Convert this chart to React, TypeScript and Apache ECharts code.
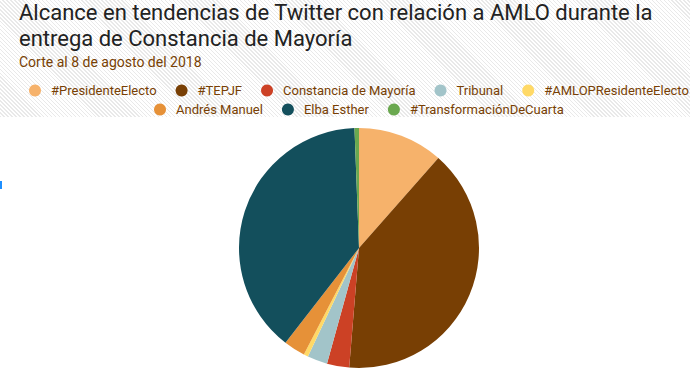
import React, { useEffect, useRef } from "react";
import * as echarts from "echarts";

const titleLines = [
  "Alcance en tendencias de Twitter con relación a AMLO durante la",
  "entrega de Constancia de Mayoría",
];
const subtitle = "Corte al 8 de agosto del 2018";

const categories = [
  "#PresidenteElecto",
  "#TEPJF",
  "Constancia de Mayoría",
  "Tribunal",
  "#AMLOPResidenteElecto",
  "Andrés Manuel",
  "Elba Esther",
  "#TransformaciónDeCuarta",
];
const values = [11.5, 39.8, 3.0, 2.7, 0.6, 2.9, 38.9, 0.6];
const colors = [
  "#F6B26B",
  "#783F04",
  "#CC4125",
  "#A2C4C9",
  "#FFD966",
  "#E69138",
  "#134F5C",
  "#6AA84F",
];

const legendRow1 = categories.slice(0, 5);
const legendRow2 = categories.slice(5);

const FONT = "Roboto, 'Noto Sans', sans-serif";
const BROWN = "#783F04";

export default function App() {
  const ref = useRef<HTMLDivElement>(null);

  useEffect(() => {
    if (!ref.current) return;
    const chart = echarts.init(ref.current, undefined, { renderer: "svg" });
    const legendCommon = {
      orient: "horizontal" as const,
      icon: "circle",
      itemWidth: 22,
      itemHeight: 12,
      itemGap: 19,
      padding: 0,
      selectedMode: false,
      textStyle: { color: BROWN, fontSize: 13, fontFamily: FONT },
    };
    const titleStyle = {
      fontFamily: FONT,
      fontSize: 22,
      fontWeight: "normal" as const,
      color: "#222222",
      lineHeight: 22,
    };
    chart.setOption({
      animation: false,
      color: colors,
      title: [
        { text: titleLines[0], left: 19, top: 1, padding: 0, textStyle: titleStyle },
        { text: titleLines[1], left: 19, top: 27, padding: 0, textStyle: titleStyle },
        {
          text: subtitle,
          left: 19,
          top: 54,
          padding: 0,
          textStyle: {
            fontFamily: FONT,
            fontSize: 14,
            fontWeight: "normal",
            color: BROWN,
            lineHeight: 16,
          },
        },
      ],
      legend: [
        { ...legendCommon, data: legendRow1, left: 29, top: 84 },
        { ...legendCommon, data: legendRow2, left: 154, top: 103 },
      ],
      graphic: [
        {
          type: "rect",
          shape: { x: 0, y: 181, width: 2, height: 8 },
          style: { fill: "#1E8FFF" },
          silent: true,
        },
      ],
      series: [
        {
          type: "pie",
          center: [359, 248],
          radius: 120,
          startAngle: 90,
          clockwise: true,
          label: { show: false },
          labelLine: { show: false },
          itemStyle: { borderWidth: 0 },
          data: categories.map((name, i) => ({ name, value: values[i] })),
        },
      ],
    });
    return () => chart.dispose();
  }, []);

  return (
    <div
      style={{
        position: "fixed",
        left: 0,
        top: 0,
        width: 700,
        height: 370,
        background: "#ffffff",
        overflow: "hidden",
      }}
    >
      <div
        style={{
          position: "absolute",
          left: 0,
          top: 0,
          width: 690,
          height: 117,
          backgroundImage:
            "repeating-linear-gradient(45deg, #e9e9e9 0px, #e9e9e9 1px, #ffffff 1px, #ffffff 2.8px)",
        }}
      />
      <div
        ref={ref}
        style={{ position: "absolute", left: 0, top: 0, width: 700, height: 370 }}
      />
    </div>
  );
}
